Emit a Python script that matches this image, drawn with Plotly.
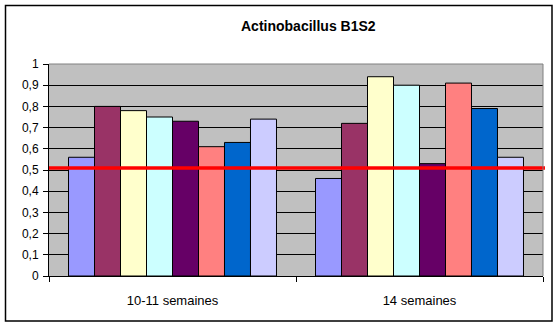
import plotly.graph_objects as go

categories = ["10-11 semaines", "14 semaines"]
series_names = ["Série1", "Série2", "Série3", "Série4", "Série5", "Série6", "Série7", "Série8"]
values_s1 = [0.56, 0.46]
values_s2 = [0.80, 0.72]
values_s3 = [0.78, 0.94]
values_s4 = [0.75, 0.90]
values_s5 = [0.73, 0.53]
values_s6 = [0.61, 0.91]
values_s7 = [0.63, 0.79]
values_s8 = [0.74, 0.56]
threshold = 0.51
colors = ["#9999FF", "#993366", "#FFFFCC", "#CCFFFF", "#660066", "#FF8080", "#0066CC", "#CCCCFF"]

all_values = [values_s1, values_s2, values_s3, values_s4, values_s5, values_s6, values_s7, values_s8]

W, H = 559, 327
L, R, T, B = 49, 16, 64, 51
pw = W - L - R
ph = H - T - B

fig = go.Figure()
for name, vals, col in zip(series_names, all_values, colors):
    fig.add_trace(go.Bar(
        x=categories, y=vals, name=name,
        marker=dict(color=col, line=dict(color="black", width=1)),
    ))

font = "Liberation Sans, Arial, sans-serif"

def px_x(p):
    return (p - L) / pw

def px_y(p):
    return (H - B - p) / ph

fig.update_layout(
    width=W, height=H,
    margin=dict(l=L, r=R, t=T, b=B, pad=0),
    barmode="group", bargap=0.158, bargroupgap=0,
    plot_bgcolor="#C0C0C0", paper_bgcolor="white",
    showlegend=False,
    separators=", ",
    font=dict(family=font, size=12, color="black"),
    xaxis=dict(
        showline=True, linecolor="black", linewidth=1,
        ticks="outside", ticklen=5, tickcolor="black", tickson="boundaries",
        showgrid=False, tickfont=dict(size=13), ticklabelstandoff=12,
    ),
    yaxis=dict(
        range=[0, 1], dtick=0.1, tick0=0,
        showline=True, linecolor="black", linewidth=1,
        ticks="outside", ticklen=5, tickcolor="black",
        showgrid=True, gridcolor="black", gridwidth=1,
        zeroline=False, tickfont=dict(size=12), ticklabelstandoff=2,
    ),
    shapes=[
        dict(type="line", xref="paper", yref="y", x0=0, x1=1.004, y0=threshold, y1=threshold,
             line=dict(color="#FF0000", width=3.5), layer="above"),
        dict(type="line", xref="paper", yref="paper", x0=0, x1=1, y0=1, y1=1,
             line=dict(color="#808080", width=1)),
        dict(type="line", xref="paper", yref="paper", x0=1, x1=1, y0=0, y1=1,
             line=dict(color="#808080", width=1)),
        dict(type="rect", xref="paper", yref="paper",
             x0=px_x(5.5), x1=px_x(552), y0=px_y(5.5), y1=px_y(321),
             line=dict(color="black", width=1.5), fillcolor="rgba(0,0,0,0)"),
    ],
    annotations=[
        dict(text="<b>Actinobacillus B1S2</b>", xref="paper", yref="paper",
             x=px_x(308), y=px_y(26), showarrow=False,
             font=dict(size=14, family=font), xanchor="center", yanchor="middle"),
    ],
)

fig.write_html("out.html")
